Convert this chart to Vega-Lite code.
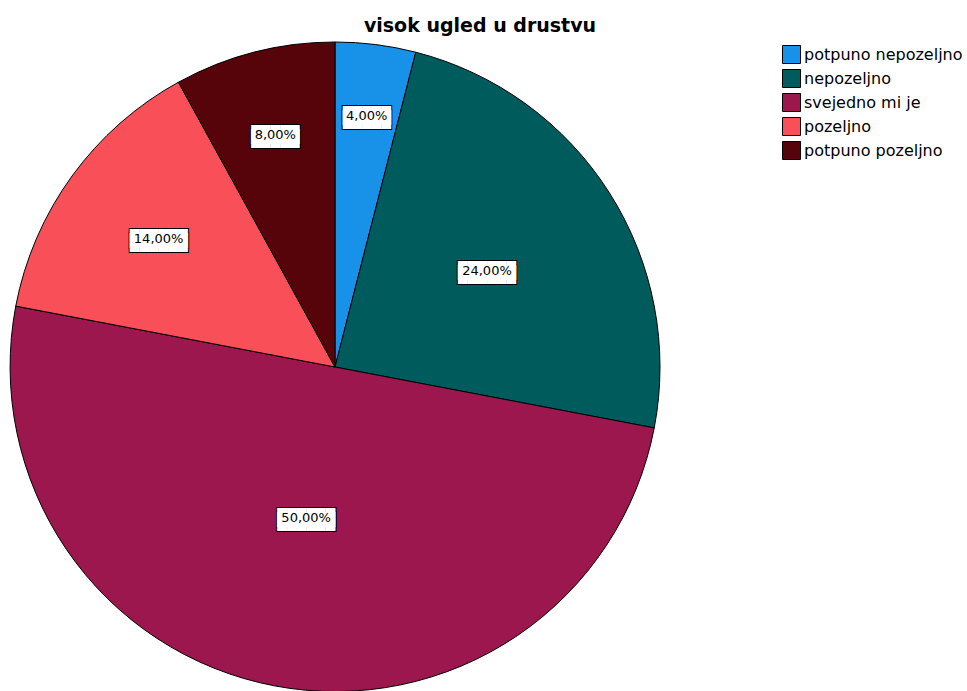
{
  "$schema": "https://vega.github.io/schema/vega-lite/v6.json",
  "width": 670,
  "height": 734,
  "autosize": "none",
  "padding": {"left": 0, "top": 0, "right": 297, "bottom": 0},
  "background": "white",
  "title": {
    "text": "visok ugled u drustvu",
    "font": "DejaVu Sans",
    "fontSize": 19,
    "fontWeight": "bold",
    "color": "#000000",
    "anchor": "middle",
    "dx": 145,
    "offset": -36
  },
  "data": {
    "values": [
      {"idx": 1, "kategorija": "potpuno nepozeljno", "pct": 4, "label": "4,00%"},
      {"idx": 2, "kategorija": "nepozeljno", "pct": 24, "label": "24,00%"},
      {"idx": 3, "kategorija": "svejedno mi je", "pct": 50, "label": "50,00%"},
      {"idx": 4, "kategorija": "pozeljno", "pct": 14, "label": "14,00%"},
      {"idx": 5, "kategorija": "potpuno pozeljno", "pct": 8, "label": "8,00%"}
    ]
  },
  "config": {"view": {"stroke": null}},
  "encoding": {
    "theta": {"field": "pct", "type": "quantitative", "stack": true},
    "order": {"field": "idx", "type": "quantitative"}
  },
  "layer": [
    {
      "mark": {"type": "arc", "outerRadius": 325, "stroke": "#000000", "strokeWidth": 1},
      "encoding": {
        "color": {
          "field": "kategorija",
          "type": "nominal",
          "sort": ["potpuno nepozeljno", "nepozeljno", "svejedno mi je", "pozeljno", "potpuno pozeljno"],
          "scale": {
            "domain": ["potpuno nepozeljno", "nepozeljno", "svejedno mi je", "pozeljno", "potpuno pozeljno"],
            "range": ["#1891e8", "#005c5c", "#9c174e", "#f94f58", "#560309"]
          },
          "legend": {
            "title": null,
            "orient": "none",
            "legendX": 782,
            "legendY": 45,
            "symbolType": "square",
            "symbolSize": 324,
            "symbolStrokeColor": "#000000",
            "symbolStrokeWidth": 1,
            "symbolOpacity": 1,
            "labelFont": "DejaVu Sans",
            "labelFontSize": 16,
            "labelColor": "#000000",
            "labelOffset": 3,
            "rowPadding": 1
          }
        }
      }
    },
    {
      "mark": {"type": "text", "font": "DejaVu Sans Mono", "fontSize": 16, "lineHeight": 4, "fill": "#000000", "stroke": "#000000", "strokeWidth": 2, "align": "center", "baseline": "middle"},
      "encoding": {
        "radius": {"field": "pct", "type": "quantitative", "scale": {"type": "linear", "zero": false, "domain": [4, 8, 14, 24, 50], "range": [253, 240, 218, 180, 154]}},
        "text": {"condition": {"test": "length(datum.label) > 5", "value": ["██████", "██████"]}, "value": ["█████", "█████"]}
      }
    },
    {
      "mark": {"type": "text", "font": "DejaVu Sans Mono", "fontSize": 16, "lineHeight": 4, "fill": "#ffffff", "align": "center", "baseline": "middle"},
      "encoding": {
        "radius": {"field": "pct", "type": "quantitative"},
        "text": {"condition": {"test": "length(datum.label) > 5", "value": ["██████", "██████"]}, "value": ["█████", "█████"]}
      }
    },
    {
      "mark": {"type": "text", "font": "DejaVu Sans", "fontSize": 13, "fill": "#000000", "align": "center", "baseline": "middle"},
      "encoding": {
        "radius": {"field": "pct", "type": "quantitative"},
        "text": {"field": "label", "type": "nominal"}
      }
    }
  ]
}
